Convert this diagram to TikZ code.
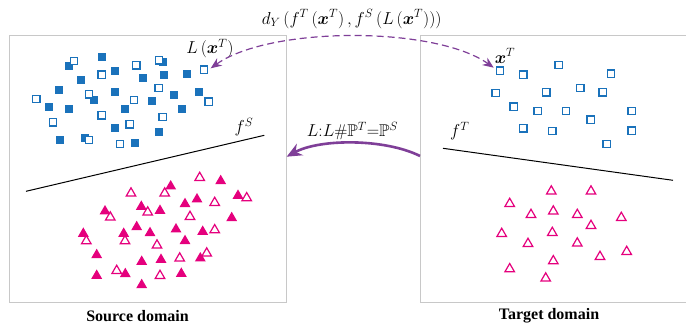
\documentclass[tikz,border=0pt]{standalone}
\usepackage{amsmath,amssymb}
\usepackage{fontspec}
\newfontfamily\tnrfont{Liberation Serif}
\usetikzlibrary{shapes.geometric,arrows.meta}
\definecolor{ptblue}{HTML}{1A72BB}
\definecolor{ptpink}{HTML}{E5007D}
\definecolor{arcpurple}{HTML}{7F3F98}
\definecolor{boxgray}{HTML}{C8C8C8}
\newcommand{\ipar}[1]{\mathinner{(#1)}}
\tikzset{
  fsq/.style={rectangle,fill=ptblue,minimum size=8pt,inner sep=0pt,outer sep=0pt},
  osq/.style={rectangle,draw=ptblue,fill=white,line width=1.2pt,minimum size=7.4pt,inner sep=0pt,outer sep=0pt},
  ftri/.style={regular polygon,regular polygon sides=3,fill=ptpink,minimum size=12.6pt,inner sep=0pt,outer sep=0pt},
  otri/.style={regular polygon,regular polygon sides=3,draw=ptpink,fill=white,line width=1.2pt,minimum size=11pt,inner sep=0pt,outer sep=0pt},
  domainbox/.style={draw=boxgray,line width=0.9pt},
  domlabel/.style={font=\tnrfont\bfseries\fontsize{16}{18}\selectfont,inner sep=0pt},
  mlabel/.style={font=\fontsize{17}{19}\selectfont,inner sep=0pt},
  boundary/.style={line width=1pt,black},
}
\begin{document}
\begin{tikzpicture}[x=1pt,y=-1pt]
\useasboundingbox (0,0) rectangle (686,324);
% boxes
\draw[domainbox] (9,35) rectangle (286,302);
\draw[domainbox] (690,35) -- (420,35) -- (420,302) -- (690,302);
% left filled squares
\foreach \x/\y [count=\i] in {69/66,101.7/56.7,115.3/70.7,80.7/80,143.3/78.3,164.3/75.3,186.7/73.7,163.3/61.7,59/89.7,115.3/92,94.3/99.7,174/95,199/92.3,48.7/107.3,68.7/109.3,125.3/109.3,151.7/101.3,182/109.3,115.3/128,159/131.7,60.3/140,85/138.3,135/142.7}
  \node[fsq] (fs\i) at (\x,\y) {};
% left open squares
\foreach \x/\y [count=\i] in {74/61,101.7/74.7,136.3/65.3,159/60.3,204/69.7,158.7/88,89/94.3,36.3/99,134/100,208.7/101.7,101.7/115.3,162.7/117,53/122.3,129.7/124.3,89/140,120/144}
  \node[osq] (os\i) at (\x,\y) {};
% right open squares
\foreach \x/\y [count=\i] in {500/70.7,523.3/74.7,558.7/65,611/73.7,495.7/93,546.3/92.3,580.3/88,602.7/92.3,513.7/106.7,537.7/111,566/111,631.7/111,590.7/119.7,523.3/128.3,552.3/131,631.7/130.7,606.7/144}
  \node[osq] (rs\i) at (\x,\y) {};
% left open triangles
\foreach \x/\y [count=\i] in {199.7/177.7,164.7/193.3,131/193.3,214.7/202.7,246.7/198,147.7/212.3,110.3/217.3,190/216.7,214.7/230,86.3/241,125/241,157/245.3,179.7/258.3,206.7/253.3,116.7/270.7,160/275.7}
  \node[otri] (ot\i) at (\x,\y) {};
% left filled triangles
\foreach \x/\y [count=\i] in {170.7/186.3,220.7/181,197/199.3,185/204,238/195.7,141.3/206.7,160/210.7,105/211.3,231.7/218,136.7/227,176/229.3,202.7/231.7,83.3/233.7,123.7/233.7,150/233,185/241,96.7/255,141.7/261.7,161/259.7,200.3/258.3,96.7/275.7,125.3/274,181.3/273.7,141.7/285}
  \node[ftri] (ft\i) at (\x,\y) {};
% right open triangles
\foreach \x/\y [count=\i] in {551.3/191.3,591/191.3,509.7/203.7,531/214.7,553.3/211.3,577.3/214.7,621.3/217.7,591/225.7,501.7/233.7,552.3/232.7,528/243.7,577.3/243.3,600/256.7,626.7/251.7,553.3/261,509.7/269,545.7/278.3}
  \node[otri] (rt\i) at (\x,\y) {};
% decision boundaries
\coordinate (fsa) at (26,191.3);
\coordinate (fsb) at (264.3,135.3);
\draw[boundary] (fsa) -- (fsb);
\coordinate (fta) at (443,148.3);
\coordinate (ftb) at (673,180.3);
\draw[boundary] (fta) -- (ftb);
\node[mlabel] (fSlab) at (244,127) {$f^S$};
\node[mlabel] (fTlab) at (459.7,131) {$f^T$};
% point labels
\node[mlabel] (Llab) at (210,48.3) {$L\ipar{\boldsymbol{x}^T}$};
\node[mlabel] (xlab) at (505,56) {$\boldsymbol{x}^T$};
% dashed double arrow
\coordinate (dl) at (210.7,68.3);
\coordinate (dr) at (493.7,67.7);
\draw[arcpurple,line width=1.2pt,dash pattern=on 7pt off 4pt,
  {Stealth[length=11pt,width=9pt]}-{Stealth[length=11pt,width=9pt]}]
  (dl) .. controls (270,26) and (435,26) .. (dr);
\node[mlabel] (dlab) at (351.7,19) {$d_Y\ipar{f^T\ipar{\boldsymbol{x}^T},f^S\ipar{L\ipar{\boldsymbol{x}^T}}}$};
% solid map arrow
\coordinate (ms) at (420,156);
\coordinate (me) at (286.7,156.7);
\draw[arcpurple,line width=2.6pt,-{Stealth[length=15pt,width=13pt]}]
  (ms) .. controls (385,138.5) and (320,138.5) .. (me);
\node[mlabel] (maplab) at (352.5,131) {$L{:}L\#\mathbb{P}^T{=}\mathbb{P}^S$};
% domain labels
\node[domlabel] (srclab) at (137.5,316) {Source domain};
\node[domlabel] (tgtlab) at (549,316) {Target domain};
\end{tikzpicture}
\end{document}
